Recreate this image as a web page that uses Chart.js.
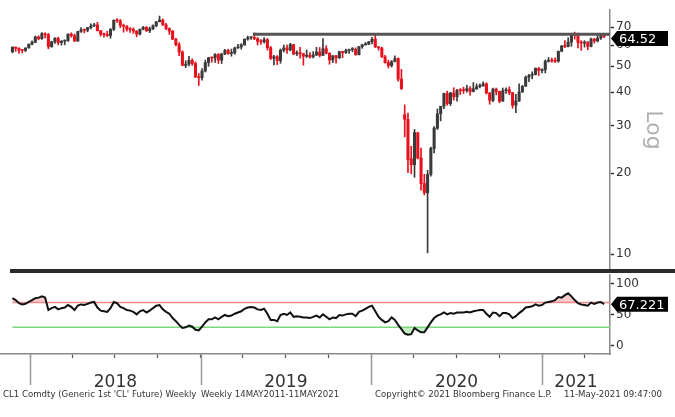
<!DOCTYPE html>
<html>
<head>
<meta charset="utf-8">
<script src="https://cdn.jsdelivr.net/npm/chart.js@4"></script>
<style>
  body { margin: 0; background: #fff; }
  #wrap { position: relative; width: 675px; height: 417px; overflow: hidden; background: #fff; }
  canvas { position: absolute; left: 0; }
  #price { top: 0; }
  #rsi { top: 270px; }
  #sep { position: absolute; left: 10px; top: 269px; width: 665px; height: 4px; background: #2a2a2a; }
  .foot { position: absolute; top: 389px; font: 8.6px "DejaVu Sans", sans-serif; color: #333; white-space: nowrap; }
</style>
</head>
<body>
<div id="wrap">
  <canvas id="price" width="675" height="270"></canvas>
  <div id="sep"></div>
  <canvas id="rsi" width="675" height="147"></canvas>
  <div class="foot" style="left:3px">CL1 Comdty (Generic 1st 'CL' Future) Weekly</div>
  <div class="foot" style="left:201px">Weekly 14MAY2011-11MAY2021</div>
  <div class="foot" style="left:375px">Copyright© 2021 Bloomberg Finance L.P.</div>
  <div class="foot" style="left:564px">11-May-2021 09:47:00</div>
</div>
<script>
// Weekly bars, first bar is the week ending 24 Nov 2017
const weekStart = '2017-11-24';

const opens = [
  56.6, 58.9, 58.4, 57.4, 57.3, 58.5, 60.4, 61.4, 64.3, 63.4,
  66.1, 65.5, 59.2, 61.7, 63.6, 61.3, 62.0, 62.3, 65.9, 64.9,
  62.1, 67.4, 68.4, 68.1, 69.7, 70.7, 71.3, 67.9, 65.8, 65.7,
  65.1, 68.6, 74.2, 73.8, 71.0, 70.5, 68.7, 68.5, 67.6, 65.9,
  68.7, 69.8, 67.8, 69.0, 70.8, 73.3, 74.3, 71.3, 69.1, 67.6,
  63.1, 60.2, 56.5, 50.4, 50.9, 52.6, 51.2, 45.6, 45.3, 48.0,
  51.6, 53.8, 53.7, 55.3, 52.7, 55.6, 57.3, 55.8, 56.1, 58.5,
  59.0, 60.1, 63.1, 63.9, 64.0, 63.3, 61.9, 61.7, 62.8, 58.6,
  53.5, 54.3, 52.5, 57.4, 58.5, 57.5, 60.2, 55.6, 56.2, 55.7,
  54.5, 54.9, 54.2, 55.1, 56.5, 54.9, 58.1, 55.9, 52.8, 54.7,
  53.8, 56.7, 56.2, 57.2, 57.7, 57.8, 55.2, 59.2, 60.1, 60.4,
  61.7, 63.1, 59.0, 58.5, 54.2, 51.6, 50.3, 52.1, 53.4, 44.8,
  33.0, 31.7, 22.6, 21.5, 28.3, 22.8, 18.3, 16.9, 19.8, 24.7,
  29.4, 33.3, 35.5, 39.6, 36.3, 39.8, 38.5, 40.7, 40.6, 40.6,
  41.3, 40.3, 41.2, 42.0, 42.3, 43.0, 39.8, 37.3, 41.1, 40.3,
  37.1, 40.6, 40.9, 39.9, 35.8, 37.1, 40.1, 42.2, 45.5, 46.3,
  46.6, 49.1, 48.2, 48.5, 52.2, 52.4, 52.3, 52.2, 56.9, 59.5,
  59.2, 61.5, 66.1, 65.6, 61.4, 61.0, 61.5, 59.3, 63.1, 62.1,
  63.6, 64.9
];
const highs = [
  59.0, 59.1, 58.6, 57.8, 58.6, 60.5, 62.2, 64.8, 64.9, 66.7,
  66.6, 66.3, 62.0, 64.0, 64.2, 62.3, 62.7, 66.0, 66.6, 65.9,
  67.5, 69.6, 68.8, 69.8, 71.9, 72.3, 72.9, 68.0, 66.4, 67.5,
  69.1, 74.5, 75.3, 74.7, 71.8, 70.9, 69.7, 69.6, 67.9, 68.8,
  70.4, 70.3, 70.0, 71.4, 73.3, 76.9, 75.0, 72.2, 69.5, 67.9,
  63.6, 61.2, 57.1, 52.4, 54.5, 53.3, 51.9, 47.0, 49.0, 52.7,
  54.0, 54.1, 55.7, 55.8, 55.8, 57.8, 57.9, 57.9, 58.9, 60.4,
  60.7, 63.2, 64.8, 64.4, 66.6, 64.0, 62.8, 63.9, 63.5, 59.3,
  54.9, 54.8, 58.0, 60.0, 59.9, 60.9, 60.3, 57.1, 58.8, 55.9,
  57.5, 56.2, 56.7, 58.8, 58.7, 63.4, 59.6, 56.2, 54.9, 54.9,
  56.9, 56.9, 57.9, 58.0, 58.7, 58.6, 59.3, 60.4, 61.3, 61.9,
  64.1, 65.6, 59.3, 58.9, 54.9, 52.7, 52.5, 54.7, 53.8, 48.7,
  35.9, 33.5, 25.2, 29.1, 28.4, 24.8, 19.8, 20.5, 25.0, 29.8,
  34.7, 35.5, 39.7, 40.4, 40.0, 41.6, 41.0, 41.3, 41.8, 42.5,
  42.0, 43.5, 43.0, 43.0, 43.8, 43.4, 39.9, 41.5, 41.5, 40.4,
  41.5, 41.6, 41.9, 40.0, 39.3, 43.0, 42.4, 46.0, 46.7, 47.7,
  49.3, 49.5, 48.9, 52.8, 53.9, 53.6, 53.8, 57.0, 59.8, 62.3,
  63.8, 66.4, 67.0, 66.4, 62.3, 62.3, 61.8, 63.7, 63.6, 65.5,
  66.0, 65.5
];
const lows = [
  56.1, 56.8, 55.8, 56.1, 56.7, 58.4, 60.1, 61.2, 62.7, 63.0,
  63.7, 58.1, 58.8, 60.8, 60.1, 59.9, 60.1, 61.9, 64.2, 61.8,
  61.9, 66.8, 66.6, 67.2, 68.9, 70.2, 67.6, 64.8, 64.2, 64.5,
  63.6, 67.9, 72.8, 69.6, 67.0, 67.6, 66.9, 66.3, 64.4, 65.4,
  68.3, 67.4, 66.7, 68.4, 70.1, 73.1, 70.9, 68.5, 65.7, 62.8,
  59.5, 54.8, 50.2, 49.4, 50.1, 50.4, 45.4, 42.4, 44.4, 47.6,
  50.0, 51.8, 51.7, 51.2, 51.2, 55.2, 55.4, 54.5, 55.4, 58.3,
  57.9, 59.8, 62.5, 62.9, 62.8, 60.0, 60.3, 60.9, 57.4, 53.0,
  50.6, 50.7, 51.3, 56.5, 55.8, 57.1, 55.2, 54.8, 53.6, 50.5,
  53.9, 53.6, 53.7, 54.8, 54.2, 54.7, 55.6, 50.9, 51.6, 51.3,
  53.4, 53.8, 55.8, 55.8, 56.6, 55.0, 55.1, 58.3, 59.9, 60.2,
  60.6, 58.7, 57.4, 53.9, 51.3, 49.3, 49.7, 51.9, 44.0, 41.0,
  27.3, 20.1, 19.9, 19.3, 22.6, 17.3, 16.6, 10.1, 19.5, 23.8,
  29.1, 31.3, 34.8, 35.8, 35.7, 37.4, 37.1, 39.2, 39.6, 40.0,
  39.0, 40.1, 41.0, 41.5, 42.1, 39.4, 36.1, 36.9, 39.1, 36.6,
  37.0, 39.6, 39.2, 34.9, 33.6, 37.0, 40.0, 42.0, 43.8, 44.9,
  46.4, 46.2, 47.2, 47.2, 51.8, 51.8, 51.6, 51.8, 56.6, 58.6,
  59.0, 59.3, 63.1, 58.5, 57.3, 58.9, 57.6, 59.0, 61.0, 61.6,
  63.0, 63.9
];
const closes = [
  58.95, 58.36, 57.36, 57.30, 58.47, 60.42, 61.44, 64.30, 63.37, 66.14,
  65.45, 59.20, 61.68, 63.55, 61.25, 62.04, 62.34, 65.88, 64.94, 62.06,
  67.39, 68.38, 68.10, 69.72, 70.70, 71.28, 67.88, 65.81, 65.74, 65.06,
  68.58, 74.15, 73.80, 71.01, 70.46, 68.69, 68.49, 67.63, 65.91, 68.72,
  69.80, 67.75, 68.99, 70.78, 73.25, 74.34, 71.34, 69.12, 67.59, 63.14,
  60.19, 56.46, 50.42, 50.93, 52.61, 51.20, 45.59, 45.33, 47.96, 51.59,
  53.80, 53.69, 55.26, 52.72, 55.59, 57.26, 55.80, 56.07, 58.52, 59.04,
  60.14, 63.08, 63.89, 64.00, 63.30, 61.94, 61.66, 62.76, 58.63, 53.50,
  54.26, 52.51, 57.43, 58.47, 57.51, 60.21, 55.63, 56.20, 55.66, 54.50,
  54.87, 54.17, 55.10, 56.52, 54.85, 58.09, 55.91, 52.81, 54.70, 53.78,
  56.66, 56.20, 57.24, 57.72, 57.77, 55.17, 59.20, 60.07, 60.44, 61.72,
  63.05, 59.04, 58.54, 54.19, 51.56, 50.32, 52.05, 53.38, 44.76, 41.28,
  31.73, 22.43, 21.51, 28.34, 22.76, 18.27, 16.94, 19.78, 24.74, 29.43,
  33.25, 35.49, 39.55, 36.26, 39.75, 38.49, 40.65, 40.55, 40.59, 41.29,
  40.27, 41.22, 42.01, 42.34, 42.97, 39.77, 37.33, 41.11, 40.25, 37.05,
  40.60, 40.88, 39.85, 35.79, 37.14, 40.13, 42.15, 45.53, 46.26, 46.57,
  49.10, 48.23, 48.52, 52.24, 52.36, 52.27, 52.20, 56.85, 59.47, 59.24,
  61.50, 66.09, 65.61, 61.42, 60.97, 61.45, 59.32, 63.13, 62.14, 63.58,
  64.90, 64.52
];
const rsi = [
  77, 74, 69, 67, 68, 71, 74, 77, 78, 80,
  78, 58, 61, 63, 59, 61, 62, 66, 63, 58,
  65, 67, 66, 68, 70, 71, 62, 57, 56, 55,
  61, 71, 69, 63, 61, 58, 57, 55, 51, 56,
  58, 54, 57, 61, 65, 66, 59, 55, 52, 45,
  40, 34, 29, 30, 33, 31, 26, 25, 31, 38,
  43, 43, 46, 43, 47, 50, 48, 49, 52, 54,
  56, 60, 62, 63, 62, 59, 58, 60, 52, 42,
  42, 40, 50, 52, 50, 54, 47, 48, 47, 46,
  46, 45, 47, 49, 46, 51, 47, 43, 46, 45,
  50, 49, 51, 52, 52, 48, 55, 57, 60, 63,
  65, 56, 47, 42, 38, 40, 46, 42, 34, 27,
  20, 18, 19, 29, 25, 22, 22, 30, 38, 45,
  49, 51, 54, 51, 53, 52, 54, 54, 54, 55,
  54, 56, 57, 58, 58, 52, 47, 54, 53, 48,
  53, 53, 51, 45, 48, 53, 57, 62, 63, 64,
  67, 65, 66, 70, 71, 72, 74, 79, 78, 82,
  85, 80, 74, 69, 67, 66, 65, 70, 68, 70,
  71, 67.221
];

const yearLabels = ['2018', '2019', '2020', '2021'];
const priceTicks = [10, 20, 30, 40, 50, 60, 70];
const rsiTicks = [0, 50, 100];
const rsiUpper = 70;
const rsiLower = 30;
// horizontal resistance line drawn from the April 2019 high
const resistanceFrom = '2019-04-23';
const resistanceLevel = 65.8;

// x positions are in weeks counted from weekStart
const WEEK = 7 * 86400000;
const t0 = Date.parse(weekStart);
function weekPos(d) { return (Date.parse(d) - t0) / WEEK; }
const xMin = -3.8, xMax = 182.8;

const yearStarts = yearLabels.map(y => weekPos(y + '-01-01'));
const quarterTicks = [];
yearLabels.forEach(y => ['01', '04', '07', '10'].forEach(m => {
  const p = weekPos(y + '-' + m + '-01');
  if (p < xMax) quarterTicks.push(p);
}));
const yearMids = yearStarts.map((s, i) => (s + (i + 1 < yearStarts.length ? yearStarts[i + 1] : xMax)) / 2);

const UP = '#3a3a3a', DOWN = '#e8101c';
const barColors = closes.map((c, i) => c < opens[i] ? DOWN : UP);
const wickData = closes.map((c, i) => ({ x: i, y: [lows[i], highs[i]] }));
const bodyData = closes.map((c, i) => ({ x: i, y: [opens[i], c] }));
const rsiData = rsi.map((v, i) => ({ x: i, y: v }));

const FONT = '"DejaVu Sans", sans-serif';

// black price tag with a left pointing tip, sitting on the right axis
function valueTag(chart, value, text, shift) {
  const ctx = chart.ctx;
  const y = chart.scales.y.getPixelForValue(value) + shift;
  const x0 = chart.chartArea.right + 1;
  ctx.save();
  ctx.fillStyle = '#000';
  ctx.beginPath();
  ctx.moveTo(x0, y);
  ctx.lineTo(x0 + 6, y - 7.5);
  ctx.lineTo(668, y - 7.5);
  ctx.lineTo(668, y + 7.5);
  ctx.lineTo(x0 + 6, y + 7.5);
  ctx.closePath();
  ctx.fill();
  ctx.fillStyle = '#fff';
  ctx.font = '13px ' + FONT;
  ctx.textBaseline = 'middle';
  ctx.fillText(text, x0 + 8, y + 1);
  ctx.restore();
}

function rightAxis(ticks, extra) {
  return Object.assign({
    position: 'right',
    afterBuildTicks: s => { s.ticks = ticks.map(v => ({ value: v })); },
    afterFit: s => { s.width = 65; s.paddingTop = 0; s.paddingBottom = 0; },
    ticks: { callback: v => String(v), font: { family: FONT, size: 12 }, color: '#333', padding: 2 },
    grid: { drawOnChartArea: false, tickLength: 4, tickColor: '#333', tickWidth: 1.5 },
    border: { color: '#8a8a8a', width: 1.5 }
  }, extra);
}

new Chart(document.getElementById('price'), {
  type: 'bar',
  data: {
    datasets: [{
      type: 'line',
      data: [{ x: weekPos(resistanceFrom), y: resistanceLevel }, { x: xMax, y: resistanceLevel }],
      borderColor: '#555',
      borderWidth: 3,
      pointRadius: 0,
      order: 0
    }, {
      data: bodyData,
      backgroundColor: barColors,
      barThickness: 2.4,
      minBarLength: 1,
      grouped: false,
      order: 1
    }, {
      data: wickData,
      backgroundColor: barColors,
      barThickness: 1,
      grouped: false,
      order: 2
    }]
  },
  options: {
    responsive: false,
    animation: false,
    devicePixelRatio: 1,
    layout: { padding: { top: 10, bottom: 2, left: 0, right: 0 } },
    plugins: { legend: { display: false }, tooltip: { enabled: false } },
    scales: {
      x: { type: 'linear', min: xMin, max: xMax, offset: false, display: false },
      y: rightAxis(priceTicks, { type: 'logarithmic', min: 8.87, max: 81 })
    }
  },
  plugins: [{
    id: 'priceExtras',
    afterDraw(chart) {
      const ctx = chart.ctx;
      ctx.save();
      ctx.translate(653, 130);
      ctx.rotate(Math.PI / 2);
      ctx.fillStyle = '#b0b0b0';
      ctx.font = '22px ' + FONT;
      ctx.textAlign = 'center';
      ctx.textBaseline = 'middle';
      ctx.fillText('Log', 0, 0);
      ctx.restore();
      valueTag(chart, closes[closes.length - 1], closes[closes.length - 1].toFixed(2), 2);
    }
  }]
});

new Chart(document.getElementById('rsi'), {
  type: 'line',
  data: {
    datasets: [{
      data: rsiData,
      borderColor: '#111',
      borderWidth: 2,
      pointRadius: 0,
      fill: { target: { value: rsiUpper }, above: 'rgba(240,110,110,0.35)', below: 'rgba(0,0,0,0)' },
      order: 0
    }, {
      data: rsiData,
      borderWidth: 0,
      pointRadius: 0,
      fill: { target: { value: rsiLower }, above: 'rgba(0,0,0,0)', below: 'rgba(90,210,90,0.35)' },
      order: 3
    }, {
      data: [{ x: 0, y: rsiUpper }, { x: xMax, y: rsiUpper }],
      borderColor: '#ef8b8b',
      borderWidth: 1.5,
      pointRadius: 0,
      order: 2
    }, {
      data: [{ x: 0, y: rsiLower }, { x: xMax, y: rsiLower }],
      borderColor: '#7fd67f',
      borderWidth: 1.5,
      pointRadius: 0,
      order: 2
    }]
  },
  options: {
    responsive: false,
    animation: false,
    devicePixelRatio: 1,
    layout: { padding: { top: 5, bottom: 0, left: 0, right: 0 } },
    plugins: { legend: { display: false }, tooltip: { enabled: false } },
    scales: {
      x: {
        type: 'linear', min: xMin, max: xMax, position: 'bottom', weight: 0,
        afterBuildTicks: s => { s.ticks = quarterTicks.map(v => ({ value: v })); },
        afterFit: s => { s.height = 6; },
        ticks: { display: false },
        grid: { drawOnChartArea: false, tickLength: 4, tickColor: '#555', tickWidth: 1.2 },
        border: { color: '#8a8a8a', width: 1.5 }
      },
      x2: {
        type: 'linear', min: xMin, max: xMax, position: 'bottom', weight: 1,
        afterBuildTicks: s => { s.ticks = yearMids.map(v => ({ value: v })); },
        afterFit: s => { s.height = 57; },
        ticks: {
          callback: (v, i) => yearLabels[i],
          font: { family: FONT, size: 17 }, color: '#333',
          padding: 4, maxRotation: 0, autoSkip: false
        },
        grid: { display: false },
        border: { display: false }
      },
      y: rightAxis(rsiTicks, { min: -13, max: 114.5 })
    }
  },
  plugins: [{
    id: 'rsiExtras',
    afterDraw(chart) {
      const ctx = chart.ctx;
      const xs = chart.scales.x;
      const b = chart.chartArea.bottom;
      ctx.save();
      ctx.strokeStyle = '#999';
      ctx.lineWidth = 1.5;
      yearStarts.forEach(p => {
        const x = Math.round(xs.getPixelForValue(p)) + 0.5;
        ctx.beginPath();
        ctx.moveTo(x, b);
        ctx.lineTo(x, b + 31);
        ctx.stroke();
      });
      ctx.restore();
      valueTag(chart, rsi[rsi.length - 1], rsi[rsi.length - 1].toFixed(3), 0);
    }
  }]
});
</script>
</body>
</html>
